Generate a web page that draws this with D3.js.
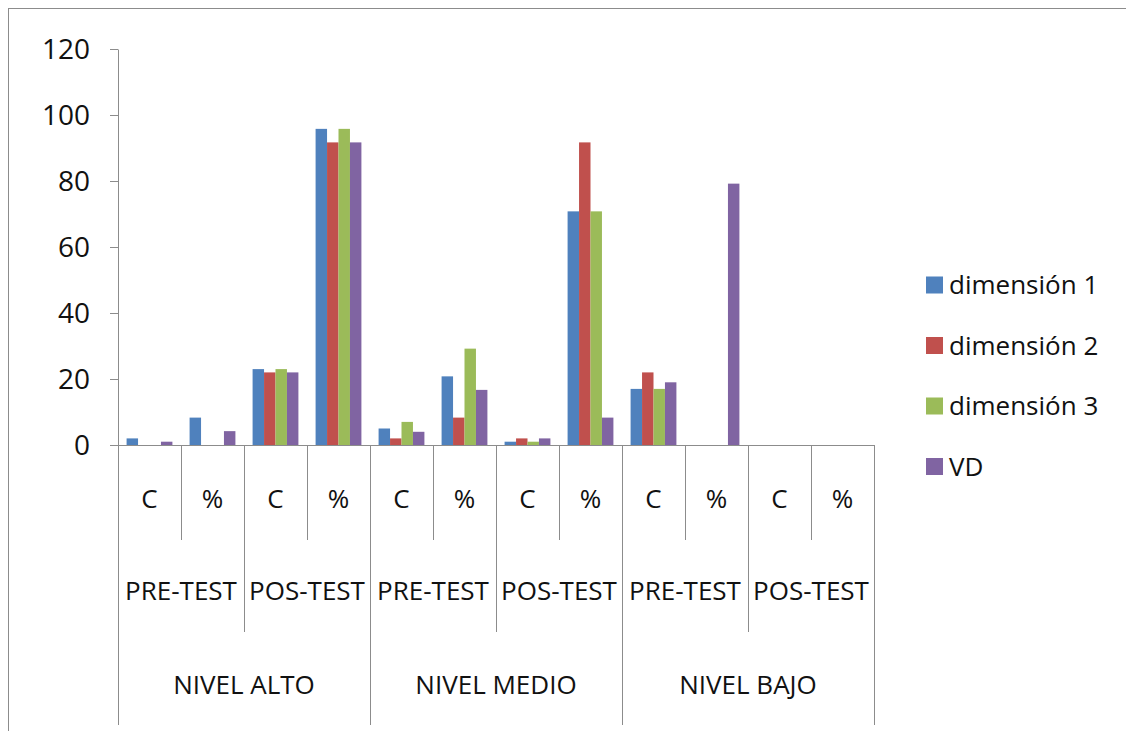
<!DOCTYPE html>
<html lang="es">
<head>
<meta charset="utf-8">
<title>Niveles por dimensión</title>
<script src="https://d3js.org/d3.v7.min.js"></script>
<style>
  body { margin: 0; background: #fff; }
  svg text { font-family: "Open Sans", "Noto Sans", sans-serif; fill: #111; }
  .axis path, .axis line { stroke: #8c8c8c; }
</style>
</head>
<body>
<svg id="chart" width="1126" height="731"></svg>
<script>
// data
var series = ["dimensión 1", "dimensión 2", "dimensión 3", "VD"];
var measures = ["C", "%", "C", "%", "C", "%", "C", "%", "C", "%", "C", "%"];
var tests = ["PRE-TEST", "POS-TEST", "PRE-TEST", "POS-TEST", "PRE-TEST", "POS-TEST"];
var levels = ["NIVEL ALTO", "NIVEL MEDIO", "NIVEL BAJO"];
var dim1 = [2, 8.3, 23, 95.8, 5, 20.8, 1, 70.8, 17, 0, 0, 0];
var dim2 = [0, 0, 22, 91.7, 2, 8.3, 2, 91.7, 22, 0, 0, 0];
var dim3 = [0, 0, 23, 95.8, 7, 29.2, 1, 70.8, 17, 0, 0, 0];
var vd   = [1, 4.2, 22, 91.7, 4, 16.7, 2, 8.3, 19, 79.2, 0, 0];
var yTicks = [0, 20, 40, 60, 80, 100, 120];

var values = [dim1, dim2, dim3, vd];
var colors = ["#4f81bd", "#c0504d", "#9bbb59", "#8064a2"];

var svg = d3.select("#chart");
var plotLeft = 118, plotRight = 874, plotTop = 49, plotBottom = 445;

// outer chart border (only left and top visible)
svg.append("rect")
  .attr("x", 8.5).attr("y", 8.5)
  .attr("width", 1200).attr("height", 800)
  .attr("fill", "none").attr("stroke", "#8c8c8c");

var idx = d3.range(measures.length);
var x = d3.scaleBand().domain(idx).range([plotLeft, plotRight]).paddingInner(0).paddingOuter(0);
var bw = x.bandwidth();
var gapPad = bw * 0.75 / 5.5;   // excel gap width 150%
var x1 = d3.scaleBand().domain(d3.range(series.length)).range([gapPad, bw - gapPad]);
var y = d3.scaleLinear().domain([0, 120]).range([plotBottom, plotTop]);

// y axis
var yAxis = svg.append("g").attr("class", "axis")
  .attr("transform", "translate(" + plotLeft + ",0)")
  .call(d3.axisLeft(y).tickValues(yTicks).tickSize(8).tickPadding(20).tickSizeOuter(0));
yAxis.selectAll("text").style("font-size", "28px").attr("dy", "0.35em");

// bars
var rows = idx.map(function(i) { return values.map(function(v) { return v[i]; }); });
svg.append("g").selectAll("g")
  .data(rows)
  .join("g")
    .attr("transform", function(d, i) { return "translate(" + x(i) + ",0)"; })
  .selectAll("rect")
  .data(function(d) { return d; })
  .join("rect")
    .attr("x", function(d, j) { return x1(j); })
    .attr("width", x1.bandwidth())
    .attr("y", function(d) { return y(d); })
    .attr("height", function(d) { return y(0) - y(d); })
    .attr("fill", function(d, j) { return colors[j]; });

// category axis: baseline and three tiers of separators
var ax = svg.append("g").attr("class", "axis");
ax.append("line")
  .attr("x1", plotLeft).attr("x2", plotRight)
  .attr("y1", y(0) + 0.5).attr("y2", y(0) + 0.5);

var tierBottom = [540, 632, 725];
d3.range(measures.length + 1).forEach(function(i) {
  var tier = (i % 4 === 0) ? 2 : (i % 2 === 0 ? 1 : 0);
  var xx = (i === measures.length ? plotRight : x(i));
  ax.append("line")
    .attr("x1", Math.round(xx) + 0.5).attr("x2", Math.round(xx) + 0.5)
    .attr("y1", y(0)).attr("y2", tierBottom[tier]);
});

svg.append("g").selectAll("text")
  .data(measures)
  .join("text")
    .attr("x", function(d, i) { return x(i) + bw / 2; })
    .attr("y", 499)
    .attr("text-anchor", "middle").attr("dy", "0.35em")
    .style("font-size", "26px")
    .text(function(d) { return d; });

svg.append("g").selectAll("text")
  .data(tests)
  .join("text")
    .attr("x", function(d, i) { return x(i * 2) + bw; })
    .attr("y", 591)
    .attr("text-anchor", "middle").attr("dy", "0.35em")
    .style("font-size", "26px")
    .text(function(d) { return d; });

svg.append("g").selectAll("text")
  .data(levels)
  .join("text")
    .attr("x", function(d, i) { return x(i * 4) + bw * 2; })
    .attr("y", 685)
    .attr("text-anchor", "middle").attr("dy", "0.35em")
    .style("font-size", "26px")
    .text(function(d) { return d; });

// legend
var legend = svg.append("g").selectAll("g")
  .data(series)
  .join("g")
    .attr("transform", function(d, i) { return "translate(926," + (285 + i * 60.5) + ")"; });
legend.append("rect")
  .attr("x", 0).attr("y", -8.5).attr("width", 17).attr("height", 17)
  .attr("fill", function(d, i) { return colors[i]; });
legend.append("text")
  .attr("x", 23).attr("y", 0).attr("dy", "0.35em")
  .style("font-size", "26px")
  .text(function(d) { return d; });
</script>
</body>
</html>
